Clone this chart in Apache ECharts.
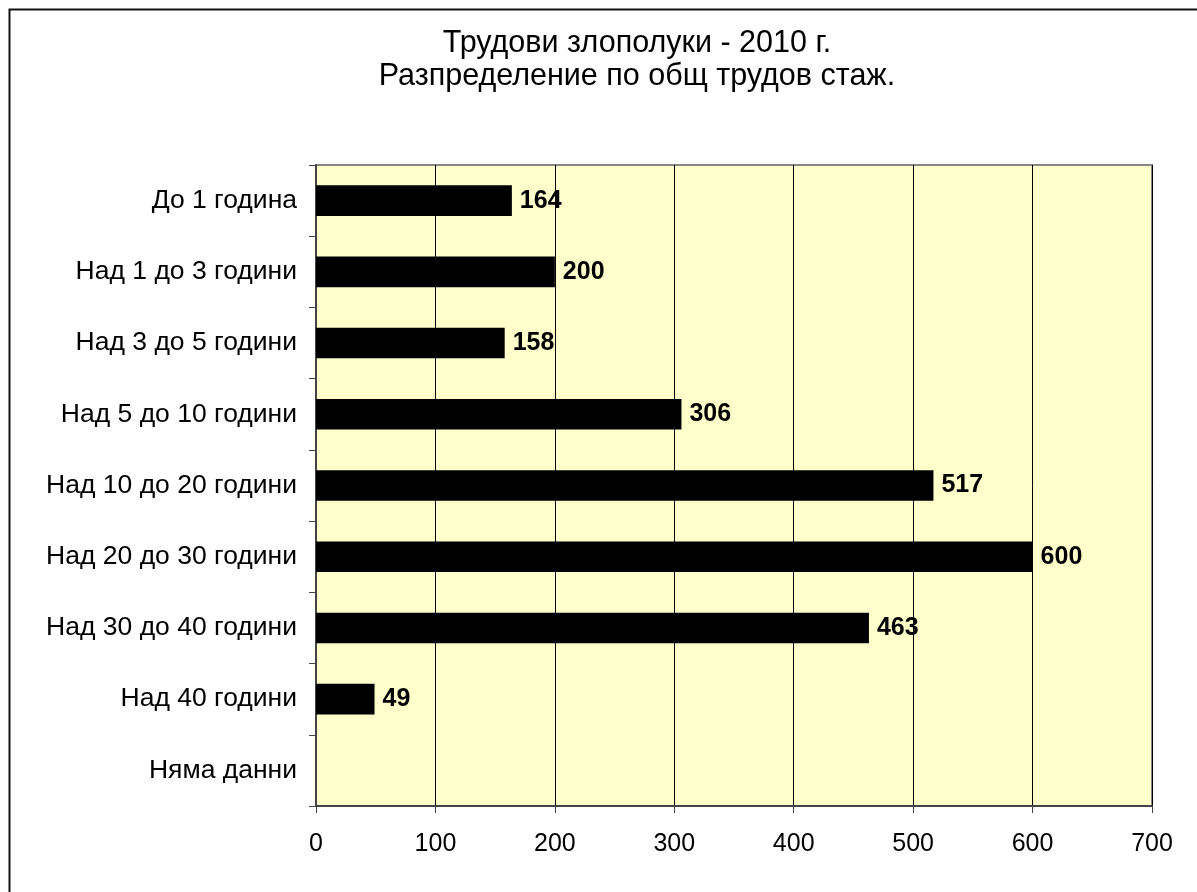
<!DOCTYPE html>
<html>
<head>
<meta charset="utf-8">
<script src="https://cdn.jsdelivr.net/npm/echarts@6/dist/echarts.min.js"></script>
<style>
html,body{margin:0;padding:0;background:#fff;}
#chart{width:1197px;height:892px;}
</style>
</head>
<body>
<div id="chart"></div>
<script>
const categories = ['До 1 година','Над 1 до 3 години','Над 3 до 5 години','Над 5 до 10 години','Над 10 до 20 години','Над 20 до 30 години','Над 30 до 40 години','Над 40 години','Няма данни'];
const values = [164, 200, 158, 306, 517, 600, 463, 49, 0];
const titleLines = ['Трудови злополуки - 2010 г.', 'Разпределение по общ трудов стаж.'];
const xTicks = [0, 100, 200, 300, 400, 500, 600, 700];

const FONT = '"Liberation Sans", Arial, sans-serif';
const chart = echarts.init(document.getElementById('chart'), null, {renderer: 'canvas'});
chart.setOption({
  animation: false,
  backgroundColor: '#ffffff',
  title: {
    text: titleLines.join('\n'),
    left: 632,
    top: 22,
    textAlign: 'center',
    textStyle: {fontFamily: FONT, fontSize: 30.5, fontWeight: 'normal', color: '#000', lineHeight: 33}
  },
  graphic: [{
    type: 'rect', silent: true, z: -1,
    shape: {x: 9.5, y: 9.5, width: 1300, height: 1000},
    style: {fill: 'none', stroke: '#111', lineWidth: 2}
  }],
  grid: {
    left: 316, top: 165, right: 45, bottom: 86,
    show: true, backgroundColor: '#FFFFCC', borderColor: '#888', borderWidth: 2
  },
  xAxis: {
    type: 'value', min: xTicks[0], max: xTicks[xTicks.length-1], interval: 100,
    axisLine: {show: true, lineStyle: {color: '#444', width: 2}},
    axisTick: {show: true, length: 7, lineStyle: {color: '#444', width: 1}},
    axisLabel: {fontFamily: FONT, fontSize: 25, color: '#000', margin: 26},
    splitLine: {show: true, lineStyle: {color: '#000', width: 1}}
  },
  yAxis: {
    type: 'category', data: categories, inverse: true,
    axisLine: {show: true, lineStyle: {color: '#444', width: 2}},
    axisTick: {show: true, length: 7, lineStyle: {color: '#444', width: 1}},
    axisLabel: {fontFamily: FONT, fontSize: 26.5, color: '#000', margin: 19},
    splitLine: {show: false}
  },
  series: [{
    type: 'bar', data: values, barWidth: '43%',
    itemStyle: {color: '#000'},
    label: {
      show: true, position: 'right', distance: 8,
      fontFamily: FONT, fontSize: 25, fontWeight: 'bold', color: '#000',
      formatter: p => p.value ? String(p.value) : ''
    }
  }]
});
</script>
</body>
</html>
